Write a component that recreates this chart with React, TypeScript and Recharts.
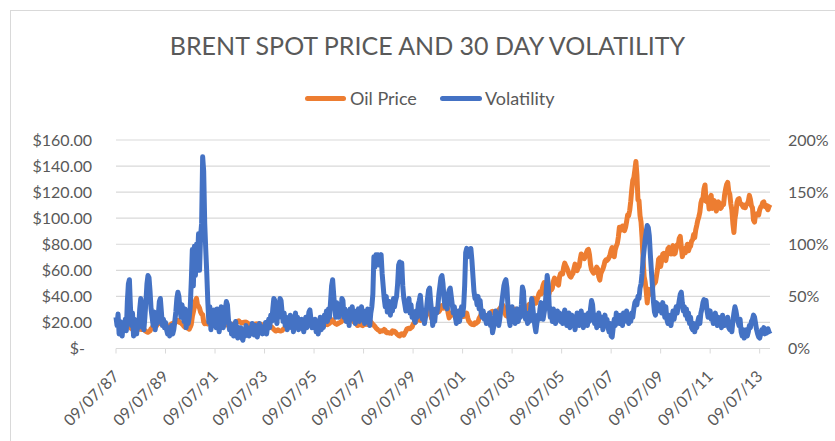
import React from "react";
import { LineChart, Line, XAxis, YAxis, CartesianGrid } from "recharts";

// two samples per month, starting 09/07/87 (dd/mm/yy)
const tickLabels = [
  "09/07/87", "09/07/89", "09/07/91", "09/07/93", "09/07/95", "09/07/97", "09/07/99",
  "09/07/01", "09/07/03", "09/07/05", "09/07/07", "09/07/09", "09/07/11", "09/07/13",
];

// Brent spot, $/bbl (one row per July-June year)
const oilPrice = [
  19.8, 19.5, 18.9, 18.3, 18.4, 18.0, 18.8, 18.3, 18.0, 17.2, 16.3, 16.6, 17.0, 16.5, 15.8, 15.4, 14.6, 15.0, 16.4, 16.0, 16.2, 15.6, 15.3, 14.8,
  14.7, 14.5, 14.9, 14.6, 13.8, 13.2, 12.7, 12.4, 13.0, 13.6, 15.2, 16.0, 17.0, 17.4, 16.8, 17.0, 18.4, 19.0, 20.5, 20.0, 18.8, 18.3, 17.8, 17.4,
  17.9, 17.6, 16.8, 17.1, 17.6, 18.2, 19.0, 19.3, 18.9, 19.4, 20.2, 21.0, 21.6, 20.8, 19.9, 19.6, 18.8, 18.0, 16.9, 16.2, 16.5, 16.0, 15.4, 14.8,
  16.5, 18.6, 24.5, 28.0, 32.0, 36.5, 38.5, 33.5, 32.5, 31.0, 28.0, 26.5, 26.0, 20.5, 19.0, 19.8, 19.4, 18.8, 19.3, 19.1, 19.2, 19.3, 18.6, 18.2,
  19.5, 19.3, 19.6, 19.4, 20.1, 20.6, 21.5, 22.4, 21.3, 20.5, 19.0, 18.2, 18.0, 18.4, 18.1, 17.9, 17.4, 17.8, 18.7, 19.2, 19.8, 20.1, 21.0, 21.2,
  20.4, 20.0, 19.5, 19.8, 20.2, 20.0, 20.3, 19.8, 19.2, 18.8, 18.5, 18.1, 17.3, 17.6, 18.5, 18.8, 18.9, 18.7, 18.9, 18.6, 18.7, 18.4, 17.9, 17.3,
  16.9, 16.6, 16.9, 16.6, 16.2, 16.5, 16.9, 16.4, 15.6, 14.6, 13.9, 13.4, 14.0, 14.3, 13.7, 13.5, 13.5, 13.8, 14.7, 15.4, 16.0, 16.6, 16.8, 17.3,
  18.4, 17.8, 17.2, 16.7, 15.9, 16.2, 16.4, 16.1, 17.1, 16.9, 15.9, 15.8, 16.5, 16.8, 17.1, 16.9, 16.8, 17.0, 18.1, 18.5, 18.8, 18.3, 17.5, 17.2,
  16.1, 15.9, 16.2, 16.5, 16.6, 16.7, 16.2, 16.4, 17.0, 17.3, 17.8, 18.6, 19.0, 18.3, 18.8, 19.3, 20.1, 20.8, 22.0, 20.6, 19.5, 18.9, 18.5, 18.9,
  19.6, 19.9, 20.3, 21.0, 22.4, 23.2, 24.5, 24.0, 23.0, 22.8, 23.6, 24.2, 24.0, 22.8, 21.2, 20.1, 19.5, 18.9, 17.6, 17.9, 19.0, 19.3, 18.0, 17.5,
  18.6, 18.3, 18.8, 18.6, 18.4, 18.9, 20.2, 20.6, 19.5, 18.6, 17.8, 16.9, 15.8, 15.0, 14.3, 13.9, 13.0, 13.6, 13.4, 13.6, 14.6, 14.0, 12.3, 12.0,
  12.2, 11.8, 12.0, 11.6, 13.6, 13.3, 13.2, 12.5, 11.4, 10.8, 10.0, 9.6, 10.9, 11.3, 10.4, 10.2, 11.9, 13.2, 15.0, 15.4, 15.5, 15.1, 15.9, 16.5,
  18.6, 19.8, 20.0, 20.8, 22.0, 23.3, 22.4, 21.6, 23.9, 25.2, 25.4, 25.7, 24.9, 26.0, 27.4, 28.3, 28.6, 26.2, 22.9, 22.6, 26.4, 28.5, 29.3, 30.6,
  29.0, 28.3, 29.5, 30.8, 33.0, 32.0, 31.0, 31.5, 32.8, 32.1, 27.0, 23.5, 24.9, 26.2, 27.6, 27.3, 25.3, 23.9, 25.0, 26.6, 28.2, 28.7, 28.0, 26.8,
  24.6, 24.5, 25.8, 25.9, 27.2, 23.5, 20.9, 20.1, 19.0, 18.5, 18.8, 18.3, 19.6, 19.2, 20.0, 20.6, 23.2, 24.5, 26.2, 25.1, 25.6, 25.0, 24.0, 24.3,
  25.5, 25.9, 26.3, 27.1, 28.3, 28.5, 28.0, 26.9, 24.1, 24.5, 26.8, 29.7, 30.5, 31.6, 32.2, 33.2, 31.8, 27.0, 25.3, 24.8, 25.4, 26.3, 27.3, 27.8,
  28.3, 28.5, 29.6, 30.2, 27.1, 26.9, 29.8, 29.5, 28.5, 29.1, 29.6, 30.0, 31.2, 31.4, 30.4, 31.3, 33.5, 34.0, 33.0, 33.7, 37.0, 38.5, 35.4, 34.8,
  37.3, 39.2, 42.0, 43.5, 41.8, 45.0, 48.5, 50.5, 45.0, 41.5, 39.0, 39.8, 42.5, 46.0, 45.0, 46.3, 51.5, 54.0, 53.0, 51.0, 49.5, 48.6, 55.0, 57.5,
  57.8, 57.2, 62.5, 65.5, 63.5, 62.0, 60.0, 57.5, 55.5, 54.8, 56.5, 57.6, 61.5, 64.8, 60.5, 59.8, 62.0, 63.0, 68.5, 72.5, 70.5, 69.5, 69.0, 70.5,
  73.5, 75.5, 76.0, 72.0, 64.5, 60.5, 59.0, 57.8, 58.5, 59.8, 62.5, 61.0, 55.0, 52.5, 57.5, 59.5, 61.0, 63.5, 67.0, 68.0, 67.5, 68.5, 70.0, 72.0,
  75.5, 77.5, 71.0, 70.5, 76.0, 78.5, 80.5, 85.5, 93.0, 92.0, 91.0, 94.0, 92.5, 90.5, 93.0, 97.5, 102.5, 102.0, 106.0, 113.0, 122.0, 129.0, 131.0, 137.0,
  143.5, 133.0, 114.0, 113.5, 102.0, 97.0, 85.0, 68.0, 55.0, 51.0, 44.0, 35.0, 45.5, 45.0, 43.5, 41.5, 45.5, 50.5, 50.0, 51.0, 56.0, 61.0, 68.5, 69.5,
  63.0, 67.5, 72.5, 73.0, 68.5, 67.5, 72.0, 76.5, 77.5, 76.5, 72.5, 76.0, 79.0, 72.5, 73.0, 76.5, 79.5, 79.0, 84.5, 86.0, 78.0, 70.5, 74.0, 76.5,
  73.5, 77.0, 80.0, 75.0, 77.5, 78.5, 82.5, 83.5, 87.5, 85.0, 91.0, 94.5, 98.5, 101.0, 104.5, 111.5, 114.5, 115.0, 122.5, 125.5, 113.0, 112.5, 114.5, 107.0,
  116.0, 117.5, 107.5, 110.5, 113.5, 108.5, 105.5, 111.5, 112.5, 109.5, 107.5, 108.5, 111.5, 110.5, 118.0, 122.5, 126.0, 127.5, 120.5, 118.5, 111.0, 106.5, 96.0, 89.0,
  99.5, 104.5, 112.0, 114.5, 115.0, 111.5, 111.0, 110.0, 108.5, 110.0, 108.0, 110.5, 111.0, 113.0, 117.5, 114.5, 109.5, 108.0, 98.5, 97.0, 103.0, 102.5, 103.5, 102.5,
  106.5, 108.5, 109.5, 112.0, 112.5, 109.0, 110.0, 108.0, 106.5, 109.0, 110.5,
];

// 30 day volatility, % annualised
const volatility = [
  30, 22, 33, 14, 26, 18, 12, 25, 20, 28, 17, 45, 62, 66, 40, 22, 34, 12, 28, 18, 14, 24, 20, 38,
  48, 40, 22, 18, 30, 45, 62, 70, 68, 55, 38, 30, 22, 35, 18, 28, 24, 32, 45, 48, 35, 22, 28, 20,
  25, 18, 14, 20, 12, 16, 22, 14, 18, 26, 35, 48, 54, 50, 38, 30, 42, 34, 26, 38, 20, 32, 24, 30,
  40, 65, 95, 60, 98, 70, 100, 85, 110, 75, 108, 120, 184, 170, 120, 95, 72, 45, 25, 40, 18, 30, 22, 37,
  35, 20, 38, 28, 16, 24, 40, 30, 20, 26, 38, 45, 42, 28, 18, 24, 14, 22, 12, 18, 26, 15, 10, 20,
  14, 20, 10, 8, 16, 12, 22, 15, 18, 12, 20, 14, 24, 18, 13, 22, 16, 11, 19, 24, 15, 20, 14, 21,
  18, 25, 14, 22, 28, 20, 32, 26, 38, 48, 46, 30, 24, 40, 30, 48, 46, 35, 26, 34, 22, 30, 18, 28,
  24, 32, 20, 28, 16, 26, 34, 22, 30, 18, 25, 20, 28, 22, 16, 24, 30, 20, 26, 35, 37, 28, 20, 26,
  20, 28, 16, 24, 14, 22, 30, 18, 26, 20, 32, 28, 36, 26, 38, 30, 45, 60, 66, 52, 40, 30, 44, 36,
  30, 42, 34, 48, 46, 30, 38, 26, 36, 32, 22, 38, 30, 40, 28, 34, 24, 36, 30, 38, 26, 32, 40, 30,
  32, 24, 36, 28, 38, 30, 22, 34, 40, 52, 88, 78, 90, 84, 90, 80, 88, 90, 72, 60, 48, 40, 50, 35,
  38, 45, 32, 44, 36, 48, 40, 46, 50, 62, 80, 83, 78, 82, 60, 48, 42, 36, 45, 38, 48, 34, 42, 30,
  34, 28, 25, 36, 30, 42, 46, 51, 40, 28, 32, 24, 30, 38, 48, 56, 58, 45, 36, 22, 30, 26, 38, 34,
  40, 52, 60, 68, 70, 62, 48, 40, 46, 38, 52, 56, 58, 50, 42, 34, 40, 30, 24, 28, 36, 26, 32, 40,
  32, 40, 60, 92, 96, 88, 95, 90, 96, 85, 70, 55, 48, 50, 42, 50, 38, 46, 34, 30, 36, 28, 32, 24,
  30, 26, 34, 22, 28, 15, 20, 30, 36, 26, 32, 22, 28, 36, 44, 52, 60, 64, 66, 58, 40, 28, 22, 34,
  40, 28, 36, 24, 32, 38, 26, 34, 30, 42, 59, 55, 36, 28, 34, 24, 32, 26, 38, 48, 40, 30, 22, 16,
  24, 32, 28, 38, 44, 36, 28, 34, 40, 55, 70, 62, 40, 30, 36, 26, 38, 32, 24, 30, 36, 28, 34, 26,
  30, 24, 32, 37, 30, 22, 28, 34, 20, 26, 32, 24, 30, 18, 26, 34, 28, 22, 30, 36, 26, 20, 28, 32,
  28, 22, 34, 26, 38, 46, 42, 30, 24, 32, 20, 28, 34, 26, 22, 30, 18, 26, 32, 24, 28, 20, 16, 24,
  12, 11, 20, 28, 22, 34, 26, 30, 24, 32, 28, 22, 34, 26, 30, 36, 28, 24, 32, 26, 34, 30, 38, 44,
  46, 42, 50, 48, 58, 62, 72, 86, 95, 105, 112, 118, 116, 108, 90, 75, 60, 45, 35, 32, 44, 36, 42, 38,
  42, 34, 44, 38, 30, 40, 28, 24, 32, 26, 22, 30, 36, 28, 34, 40, 34, 40, 46, 52, 54, 44, 36, 40,
  32, 38, 28, 34, 24, 30, 20, 18, 24, 16, 22, 20, 26, 30, 24, 34, 38, 44, 47, 42, 46, 36, 30, 34,
  36, 28, 32, 24, 30, 34, 26, 22, 30, 24, 28, 20, 32, 26, 22, 28, 24, 30, 20, 18, 22, 16, 26, 34,
  40, 36, 30, 26, 22, 28, 16, 12, 18, 10, 14, 18, 12, 16, 22, 20, 26, 28, 32, 30, 24, 18, 14, 11,
  10, 14, 18, 16, 20, 14, 18, 15, 19, 16, 14,
];

const priceTicks = [0, 20, 40, 60, 80, 100, 120, 140, 160];
const volTicks = [0, 50, 100, 150, 200];

const data = oilPrice.map((price, i) => ({ t: i, price, vol: volatility[i] }));
const xTicks = tickLabels.map((_, i) => i * 48);

const FONT = "Lato, 'Open Sans', sans-serif";
const TEXT = "#595959";
const GRID = "#D9D9D9";
const ORANGE = "#ED7D31";
const BLUE = "#4472C4";

const PriceTick = ({ x, y, payload }: any) => (
  <text x={payload.value === 0 ? x - 7 : x} y={y} dy="0.35em" textAnchor="end" fill={TEXT} fontSize={16} fontFamily={FONT}>
    {payload.value === 0 ? "$-" : `$${payload.value.toFixed(2)}`}
  </text>
);

const VolTick = ({ x, y, payload }: any) => (
  <text x={x} y={y} dy="0.35em" textAnchor="start" fill={TEXT} fontSize={16} fontFamily={FONT}>
    {`${payload.value}%`}
  </text>
);

const DateTick = ({ x, y, payload }: any) => {
  const label = tickLabels[Math.round(payload.value / 48)];
  return (
    <text x={x + 4} y={y} textAnchor="end" fill={TEXT} fontSize={16} fontFamily={FONT} transform={`rotate(-45, ${x + 4}, ${y})`}>
      {label}
    </text>
  );
};

const legendText = { position: "absolute" as const, top: 88, lineHeight: "20px", fontFamily: FONT, fontSize: 18, color: TEXT };
const swatch = { position: "absolute" as const, top: 96, height: 5, borderRadius: 3 };

export default function App() {
  return (
    <div style={{ position: "fixed", left: 0, top: 0, width: 835, height: 441, overflow: "hidden", background: "#fff" }}>
      <div style={{ position: "absolute", left: 10, top: 10, width: 900, height: 500, border: `1px solid ${GRID}` }} />
      <div
        style={{
          position: "absolute", left: 0, width: 855, top: 30, textAlign: "center",
          fontFamily: FONT, fontSize: 25, color: TEXT, lineHeight: "30px",
        }}
      >
        BRENT SPOT PRICE AND 30 DAY VOLATILITY
      </div>
      <div style={{ ...swatch, left: 305, width: 41, background: ORANGE }} />
      <div style={{ ...legendText, left: 350 }}>Oil Price</div>
      <div style={{ ...swatch, left: 440, width: 42, background: BLUE }} />
      <div style={{ ...legendText, left: 485 }}>Volatility</div>
      <div style={{ position: "absolute", left: 0, top: 0 }}>
        <LineChart width={835} height={441} data={data} margin={{ top: 140, right: 0, bottom: 0, left: 0 }}>
          <CartesianGrid yAxisId="price" vertical={false} stroke={GRID} strokeWidth={1.2} />
          <XAxis
            dataKey="t"
            type="number"
            domain={[0, 634]}
            ticks={xTicks}
            height={92.5}
            tickSize={5}
            tickMargin={24}
            stroke={GRID}
            tick={<DateTick />}
            interval={0}
          />
          <YAxis
            yAxisId="price"
            orientation="left"
            domain={[0, 160]}
            ticks={priceTicks}
            width={116}
            axisLine={false}
            tickLine={false}
            tickSize={0}
            tickMargin={24}
            tick={<PriceTick />}
            interval={0}
          />
          <YAxis
            yAxisId="vol"
            orientation="right"
            domain={[0, 200]}
            ticks={volTicks}
            width={65}
            axisLine={false}
            tickLine={false}
            tickSize={0}
            tickMargin={18}
            tick={<VolTick />}
            interval={0}
          />
          <Line yAxisId="price" dataKey="price" stroke={ORANGE} strokeWidth={5} strokeLinejoin="round" dot={false} isAnimationActive={false} />
          <Line yAxisId="vol" dataKey="vol" stroke={BLUE} strokeWidth={5} strokeLinejoin="round" dot={false} isAnimationActive={false} />
        </LineChart>
      </div>
    </div>
  );
}
